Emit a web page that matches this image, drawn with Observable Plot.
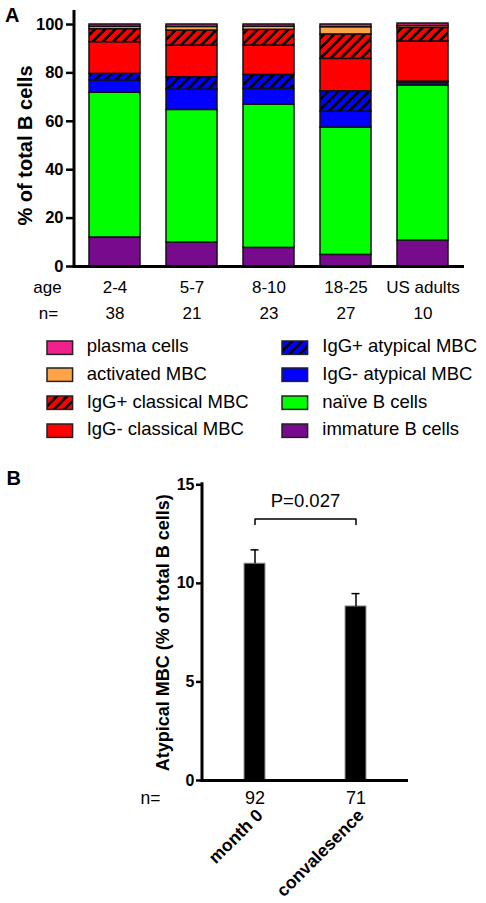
<!DOCTYPE html>
<html><head><meta charset="utf-8">
<script src="https://cdn.jsdelivr.net/npm/d3@7"></script>
<script src="https://cdn.jsdelivr.net/npm/@observablehq/plot@0.6"></script>
<style>
body{margin:0;background:#fff;}
#wrap{position:relative;width:486px;height:903px;font-family:"Liberation Sans",Arial,sans-serif;overflow:hidden;background:#fff;color:#000;}
#wrap svg{position:absolute;left:0;overflow:visible;}
.panel{position:absolute;font-weight:bold;font-size:20px;line-height:1;}
.legtxt{position:absolute;font-size:18.5px;line-height:1;white-space:nowrap;}
.sw{position:absolute;}
</style></head><body>
<div id="wrap"></div>
<script>
// ---------- DATA ----------
const ages = ["2-4", "5-7", "8-10", "18-25", "US adults"];
const nA = [38, 21, 23, 27, 10];
// stacked bottom -> top
const seriesNames = ["immature B cells", "naïve B cells", "IgG- atypical MBC", "IgG+ atypical MBC",
  "IgG- classical MBC", "IgG+ classical MBC", "activated MBC", "plasma cells"];
const immature   = [12.0, 9.9, 7.7, 4.8, 10.7];
const naive      = [59.8, 54.8, 59.2, 52.6, 64.1];
const iggNegAtyp = [5.1, 8.4, 6.5, 6.6, 1.2];
const iggPosAtyp = [2.7, 5.1, 5.8, 8.4, 0.4];
const iggNegClas = [13.1, 13.1, 12.1, 13.4, 16.6];
const iggPosClas = [5.4, 6.2, 6.5, 10.1, 5.6];
const activated  = [1.0, 1.5, 1.3, 3.0, 0.8];
const plasma     = [0.9, 1.0, 0.9, 1.1, 1.0];
const seriesValues = [immature, naive, iggNegAtyp, iggPosAtyp, iggNegClas, iggPosClas, activated, plasma];
const seriesColors = ["#770a8d", "#00ff00", "#0000ff", "#0000ff", "#ff0000", "#ff0000", "#ffa347", "#f0208c"];
const seriesHatched = [false, false, false, true, false, true, false, false];
const legendLeft = ["plasma cells", "activated MBC", "IgG+ classical MBC", "IgG- classical MBC"];
const legendRight = ["IgG+ atypical MBC", "IgG- atypical MBC", "naïve B cells", "immature B cells"];
const yTicksA = [0, 20, 40, 60, 80, 100];

const timepoints = ["month 0", "convalesence"];
const nB = [92, 71];
const meanB = [11.0, 8.83];
const semB = [0.7, 0.65];
const yTicksB = [0, 5, 10, 15];
const pLabel = "P=0.027";
const pLabelY = 14.15;
const bracketX = ["month 0", "month 0", "convalesence", "convalesence"];
const bracketY = [12.98, 13.27, 13.27, 12.98];

// ---------- helpers ----------
const FONT = '"Liberation Sans", Arial, sans-serif';
const fillOf = j => seriesHatched[j] ? `url(#hatch${j})` : seriesColors[j];

const wrap = d3.select("#wrap");
// pattern defs
const defsSvg = wrap.append("svg").attr("width", 0).attr("height", 0).style("top", "0px");
const defs = defsSvg.append("defs");
seriesNames.forEach((s, j) => {
  if (!seriesHatched[j]) return;
  const p = defs.append("pattern").attr("id", `hatch${j}`).attr("patternUnits", "userSpaceOnUse")
    .attr("width", 7.2).attr("height", 7.2).attr("patternTransform", "rotate(45)");
  p.append("rect").attr("width", 7.2).attr("height", 7.2).attr("fill", seriesColors[j]);
  p.append("rect").attr("width", 2.7).attr("height", 7.2).attr("fill", "#000");
});

function leftLine(extendTop) {
  return (index, scales, values, dims) => d3.create("svg:line")
    .attr("x1", dims.marginLeft).attr("x2", dims.marginLeft)
    .attr("y1", dims.height - dims.marginBottom + 1.5).attr("y2", dims.marginTop - extendTop)
    .attr("stroke", "#000").attr("stroke-width", 3).node();
}

// ---------- Panel A ----------
const rows = [];
ages.forEach((a, i) => seriesNames.forEach((s, j) =>
  rows.push({age: a, cell: s, value: seriesValues[j][i], fill: fillOf(j)})));

const plotA = Plot.plot({
  width: 486, height: 330,
  marginLeft: 74, marginRight: 22, marginTop: 24, marginBottom: 64,
  style: {fontFamily: FONT, fontSize: "17px", color: "#000", background: "transparent", overflow: "visible"},
  x: {domain: ages, paddingInner: 0.333, paddingOuter: 0.17, axis: null},
  y: {domain: [0, 100], axis: null},
  color: {type: "identity"},
  marks: [
    Plot.barY(rows, Plot.stackY({x: "age", y: "value", z: "cell", fill: "fill", order: seriesNames,
      stroke: "#111", strokeWidth: 1.5})),
    Plot.axisY({ticks: yTicksA, tickSize: 8, tickPadding: 3, strokeWidth: 2.5, fontWeight: "bold",
      fontSize: 16.5, label: null, tickFormat: d => d}),
    leftLine(14),
    Plot.ruleY([0], {strokeWidth: 3, insetLeft: -1.5}),
    Plot.text(ages, {x: d => d, frameAnchor: "bottom", lineAnchor: "middle", textAnchor: "middle", dy: 21, fontSize: 17}),
    Plot.text(nA, {x: (d, i) => ages[i], text: d => String(d), frameAnchor: "bottom", lineAnchor: "middle", textAnchor: "middle", dy: 47, fontSize: 17}),
    Plot.text(["age"], {frameAnchor: "bottom-left", lineAnchor: "middle", textAnchor: "middle", dx: -27, dy: 21, fontSize: 17}),
    Plot.text(["n="], {frameAnchor: "bottom-left", lineAnchor: "middle", textAnchor: "middle", dx: -26, dy: 47, fontSize: 17}),
    Plot.text(["% of total B cells"], {frameAnchor: "left", rotate: -90, textAnchor: "middle", lineAnchor: "middle",
      dx: -49, fontWeight: "bold", fontSize: 20})
  ]
});
d3.select(plotA).style("top", "0px");
wrap.node().appendChild(plotA);

// ---------- Legend ----------
const swTop0 = 340.7, swStep = 27.67, swW = 25.6, swH = 13.4;
function addLegendCol(names, swX, txtX) {
  names.forEach((name, r) => {
    const j = seriesNames.indexOf(name);
    const top = swTop0 + r * swStep;
    const s = wrap.append("svg").attr("class", "sw").attr("width", swW + 2).attr("height", swH + 2)
      .style("left", (swX - 1) + "px").style("top", (top - 1) + "px");
    s.append("rect").attr("x", 1).attr("y", 1).attr("width", swW).attr("height", swH)
      .attr("fill", fillOf(j)).attr("stroke", "#222").attr("stroke-width", 1.5);
    wrap.append("div").attr("class", "legtxt").style("left", txtX + "px")
      .style("top", (top + swH - 1.2 - 15.7) + "px").text(name);
  });
}
addLegendCol(legendLeft, 46.7, 86.7);
addLegendCol(legendRight, 282.3, 322.3);

// ---------- Panel B ----------
const plotB = Plot.plot({
  width: 486, height: 443,
  marginLeft: 202, marginRight: 78, marginTop: 24.3, marginBottom: 123,
  style: {fontFamily: FONT, fontSize: "18px", color: "#000", background: "transparent", overflow: "visible"},
  x: {domain: timepoints, paddingInner: 0.79, paddingOuter: 0.41, axis: null},
  y: {domain: [0, 15], axis: null},
  marks: [
    Plot.barY(timepoints, {x: d => d, y: (d, i) => meanB[i], fill: "#000", stroke: "#999", strokeWidth: 1}),
    Plot.ruleX(timepoints, {x: d => d, y1: (d, i) => meanB[i], y2: (d, i) => meanB[i] + semB[i], strokeWidth: 1.5}),
    Plot.tickY(timepoints, {x: d => d, y: (d, i) => meanB[i] + semB[i], insetLeft: 6.5, insetRight: 6.5, strokeWidth: 1.5}),
    Plot.line(bracketX.map((x, i) => ({x, y: bracketY[i]})), {x: "x", y: "y", strokeWidth: 1.5}),
    Plot.text([pLabel], {y: () => pLabelY, textAnchor: "middle", lineAnchor: "middle", fontSize: 18.5}),
    Plot.axisY({ticks: yTicksB, tickSize: 6, tickPadding: 2, strokeWidth: 2.5, fontWeight: "bold",
      fontSize: 16, label: null, tickFormat: d => d}),
    leftLine(2),
    Plot.ruleY([0], {strokeWidth: 3, insetLeft: -1.5}),
    Plot.text(nB, {x: (d, i) => timepoints[i], text: d => String(d), frameAnchor: "bottom", lineAnchor: "middle", textAnchor: "middle", dy: 18, fontSize: 18}),
    Plot.text(["n="], {frameAnchor: "bottom-left", lineAnchor: "middle", textAnchor: "middle", dx: -52, dy: 18, fontSize: 17.5}),
    Plot.text(timepoints, {x: d => d, frameAnchor: "bottom", rotate: -45, textAnchor: "end", lineAnchor: "middle",
      dx: 5, dy: 32, fontWeight: "bold", fontSize: 17.5}),
    Plot.text(["Atypical MBC (% of total B cells)"], {frameAnchor: "left", rotate: -90, textAnchor: "middle", lineAnchor: "middle",
      dx: -39, fontWeight: "bold", fontSize: 18})
  ]
});
d3.select(plotB).style("top", "460px");
wrap.node().appendChild(plotB);

// ---------- panel letters ----------
wrap.append("div").attr("class", "panel").style("left", "5px").style("top", "4.8px").text("A");
wrap.append("div").attr("class", "panel").style("left", "6.5px").style("top", "468px").text("B");
</script>
</body></html>
